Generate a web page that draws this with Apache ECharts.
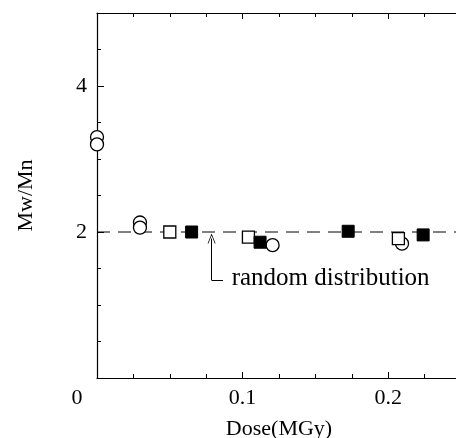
<!DOCTYPE html>
<html>
<head>
<meta charset="utf-8">
<script src="https://cdn.jsdelivr.net/npm/echarts@6/dist/echarts.min.js"></script>
<style>html,body{margin:0;padding:0;background:#fff}#c{width:456px;height:438px}</style>
</head>
<body>
<div id="c"></div>
<script>
// ---- data ----
const openCircles = [[0.0, 3.30], [0.0, 3.20], [0.0295, 2.13], [0.0295, 2.06], [0.1206, 1.82], [0.2095, 1.84]];
const openSquares = [[0.050, 2.00], [0.104, 1.93], [0.207, 1.91]];
const filledSquares = [[0.065, 2.00], [0.112, 1.86], [0.1725, 2.01], [0.224, 1.96]];
const randomLine = [[0, 2], [0.25, 2]];
const annotationText = 'random distribution';
const arrowTip = [0.0787, 1.91];
const arrowCorner = [0.0787, 1.34];
const arrowEnd = [0.0865, 1.34];
const textAnchor = [0.0925, 1.37];
const xLabels = { 0: '0', 0.1: '0.1', 0.2: '0.2' };
const yLabels = { 0: '', 2: '2', 4: '4' };

const FONT = 'Liberation Serif';
const chart = echarts.init(document.getElementById('c'), null, { renderer: 'canvas' });
const tickStyle = { color: '#000', width: 1 };
chart.setOption({
  animation: false,
  backgroundColor: '#fff',
  grid: { left: 97, right: -5, top: 13, bottom: 60, containLabel: false, outerBoundsMode: 'none' },
  xAxis: [{
    type: 'value', min: 0, max: 0.25, interval: 0.1,
    name: 'Dose(MGy)', nameLocation: 'middle', nameGap: 40,
    nameTextStyle: { fontFamily: FONT, fontSize: 22, color: '#000' },
    axisLine: { show: true, lineStyle: { color: '#000', width: 1.2 } },
    axisTick: { show: true, inside: true, length: 6, lineStyle: tickStyle },
    minorTick: { show: true, splitNumber: 4, length: 4, lineStyle: tickStyle },
    splitLine: { show: false },
    axisLabel: {
      fontFamily: FONT, fontSize: 22, color: '#000', margin: 9,
      formatter: v => {
        const k = Math.round(v * 10) / 10;
        const s = xLabels[k];
        if (s === undefined) return '';
        return k === 0 ? '{z|' + s + '}' : s;
      },
      rich: { z: { fontFamily: FONT, fontSize: 22, color: '#000', padding: [0, 40, 0, 0] } }
    }
  }, {
    type: 'value', position: 'top', min: 0, max: 0.25, interval: 0.1,
    axisLine: { show: true, lineStyle: { color: '#000', width: 1.2 } },
    axisTick: { show: true, inside: true, length: 6, lineStyle: tickStyle },
    minorTick: { show: true, splitNumber: 4, length: 4, lineStyle: tickStyle },
    splitLine: { show: false },
    axisLabel: { show: false }
  }],
  yAxis: {
    type: 'value', min: 0, max: 5, interval: 2,
    name: 'Mw/Mn', nameLocation: 'middle', nameGap: 60, nameRotate: 90,
    nameTextStyle: { fontFamily: FONT, fontSize: 22, color: '#000' },
    axisLine: { show: true, lineStyle: { color: '#000', width: 1.2 } },
    axisTick: { show: true, inside: true, length: 7, lineStyle: tickStyle },
    minorTick: { show: true, splitNumber: 4, length: 4, lineStyle: tickStyle },
    splitLine: { show: false },
    axisLabel: {
      fontFamily: FONT, fontSize: 22, color: '#000', margin: 10,
      formatter: v => (yLabels[v] !== undefined ? yLabels[v] : '')
    }
  },
  series: [
    {
      type: 'line', data: randomLine, symbol: 'none', silent: true, z: 1,
      lineStyle: { color: '#000', width: 1, type: [13, 8] },
      markLine: {
        silent: true, animation: false,
        label: { show: false },
        lineStyle: { color: '#000', width: 1, type: 'solid' },
        data: [
          [{ coord: arrowCorner, symbol: 'none' }, { coord: arrowTip, symbol: 'path://M0,10 L5,0 L10,10 L9,10 L5,2 L1,10 Z', symbolSize: [8, 10] }],
          [{ coord: arrowCorner, symbol: 'none' }, { coord: arrowEnd, symbol: 'none' }]
        ]
      },
      markPoint: {
        silent: true, animation: false,
        symbol: 'circle', symbolSize: 0,
        label: { show: true, position: 'right', distance: 0, fontFamily: FONT, fontSize: 25, color: '#000', formatter: annotationText },
        data: [{ coord: textAnchor }]
      }
    },
    {
      type: 'scatter', name: 'open circles', data: openCircles, symbol: 'circle', symbolSize: 13, z: 3,
      itemStyle: { color: '#fff', borderColor: '#000', borderWidth: 1.3, opacity: 1 }
    },
    {
      type: 'scatter', name: 'open squares', data: openSquares, symbol: 'rect', symbolSize: 12, z: 3,
      itemStyle: { color: '#fff', borderColor: '#000', borderWidth: 1.3, opacity: 1 }
    },
    {
      type: 'scatter', name: 'filled squares', data: filledSquares, symbol: 'rect', symbolSize: 12, z: 4,
      itemStyle: { color: '#000', borderColor: '#000', borderWidth: 1, opacity: 1 }
    }
  ]
});
</script>
</body>
</html>
